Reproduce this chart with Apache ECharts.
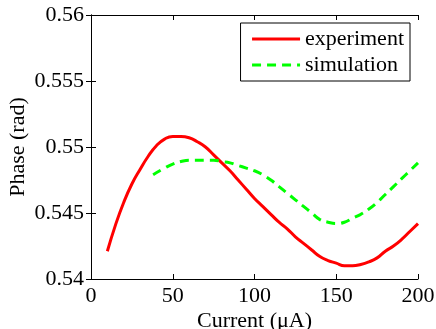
<!DOCTYPE html>
<html>
<head>
<meta charset="utf-8">
<script src="https://cdn.jsdelivr.net/npm/echarts@6/dist/echarts.min.js"></script>
<style>
html,body{margin:0;padding:0;background:#fff;}
#c{width:436px;height:329px;}
</style>
</head>
<body>
<div id="c"></div>
<script>
// Data
const expCurrent = [10, 15, 20, 25, 30, 35, 40, 45, 50, 55, 60, 65, 70, 75, 80, 85, 90, 95, 100, 105, 110, 115, 120, 125, 130, 135, 140, 145, 150, 155, 160, 165, 170, 175, 180, 185, 190, 195, 200];
const expPhase   = [0.5421, 0.5441, 0.5458, 0.5472, 0.5483, 0.5493, 0.5501, 0.5506, 0.5508, 0.5508, 0.5507, 0.5504, 0.5500, 0.5494, 0.5488, 0.5482, 0.5475, 0.5468, 0.5461, 0.5455, 0.5449, 0.5443, 0.5438, 0.5432, 0.5427, 0.5422, 0.5417, 0.5414, 0.5412, 0.5410, 0.5410, 0.5411, 0.5413, 0.5416, 0.5421, 0.5425, 0.5430, 0.5436, 0.5442];
const simCurrent = [38, 45, 50, 55, 60, 65, 70, 75, 80, 85, 90, 95, 100, 105, 110, 115, 120, 125, 130, 135, 140, 145, 150, 155, 160, 165, 170, 175, 180, 185, 190, 195, 200];
const simPhase   = [0.5479, 0.5484, 0.5487, 0.5489, 0.5490, 0.5490, 0.5490, 0.5490, 0.5489, 0.5488, 0.5486, 0.5484, 0.5482, 0.5479, 0.5475, 0.5470, 0.5465, 0.5460, 0.5455, 0.5450, 0.5445, 0.5443, 0.5442, 0.5443, 0.5446, 0.5449, 0.5453, 0.5458, 0.5464, 0.5470, 0.5476, 0.5482, 0.5488];
const seriesNames = ['experiment', 'simulation'];
const xTicks = [0, 50, 100, 150, 200];
const yTicks = [0.54, 0.545, 0.55, 0.555, 0.56];
const xTitle = 'Current (\u03bcA)';
const yTitle = 'Phase (rad)';

const FONT = '"Liberation Serif", "Times New Roman", serif';
const chart = echarts.init(document.getElementById('c'));
const pairs = (xs, ys) => xs.map((x, i) => [x, ys[i]]);
const axisCommon = {
  axisLine: {show: true, lineStyle: {color: '#000', width: 1}},
  axisTick: {show: true, inside: true, length: 5, lineStyle: {color: '#000'}},
  splitLine: {show: false}
};
const labelStyle = {color: '#000', fontFamily: FONT, fontSize: 22};
chart.setOption({
  animation: false,
  backgroundColor: '#fff',
  textStyle: {fontFamily: FONT},
  grid: {left: 91, top: 15, right: 18, bottom: 50, containLabel: false, outerBoundsMode: 'none'},
  xAxis: [
    Object.assign({}, axisCommon, {
      type: 'value', position: 'bottom',
      min: xTicks[0], max: xTicks[xTicks.length - 1], interval: xTicks[1] - xTicks[0],
      axisLabel: Object.assign({margin: 6}, labelStyle),
      name: xTitle, nameLocation: 'middle', nameGap: 31, nameMoveOverlap: false,
      nameTextStyle: labelStyle
    }),
    Object.assign({}, axisCommon, {
      type: 'value', position: 'top',
      min: xTicks[0], max: xTicks[xTicks.length - 1], interval: xTicks[1] - xTicks[0],
      axisLabel: {show: false}
    })
  ],
  yAxis: [
    Object.assign({}, axisCommon, {
      type: 'value', position: 'left',
      min: yTicks[0], max: yTicks[yTicks.length - 1], interval: 0.005,
      axisLabel: Object.assign({margin: 7, formatter: v => String(Number(v.toFixed(3)))}, labelStyle),
      name: yTitle, nameLocation: 'middle', nameGap: 62, nameMoveOverlap: false,
      nameTextStyle: labelStyle
    }),
    Object.assign({}, axisCommon, {
      type: 'value', position: 'right',
      min: yTicks[0], max: yTicks[yTicks.length - 1], interval: 0.005,
      axisLabel: {show: false}
    })
  ],
  legend: {
    data: seriesNames,
    orient: 'vertical',
    right: 26, top: 23,
    padding: [5, 6, 5, 10],
    itemGap: 4,
    itemWidth: 48, itemHeight: 20,
    itemTextGap: 5,
    itemStyle: {opacity: 0},
    lineStyle: {width: 3},
    borderColor: '#000', borderWidth: 1,
    backgroundColor: '#fff',
    textStyle: {color: '#000', fontFamily: FONT, fontSize: 22, lineHeight: 21}
  },
  series: [
    {
      name: seriesNames[0], type: 'line', xAxisIndex: 0, yAxisIndex: 0,
      data: pairs(expCurrent, expPhase), smooth: 0.5, showSymbol: false,
      lineStyle: {color: '#ff0000', width: 3}, itemStyle: {color: '#ff0000'}
    },
    {
      name: seriesNames[1], type: 'line', xAxisIndex: 0, yAxisIndex: 0,
      data: pairs(simCurrent, simPhase), smooth: 0.5, showSymbol: false,
      lineStyle: {color: '#00ff00', width: 3, type: [9, 6]}, itemStyle: {color: '#00ff00'}
    }
  ]
});
</script>
</body>
</html>
